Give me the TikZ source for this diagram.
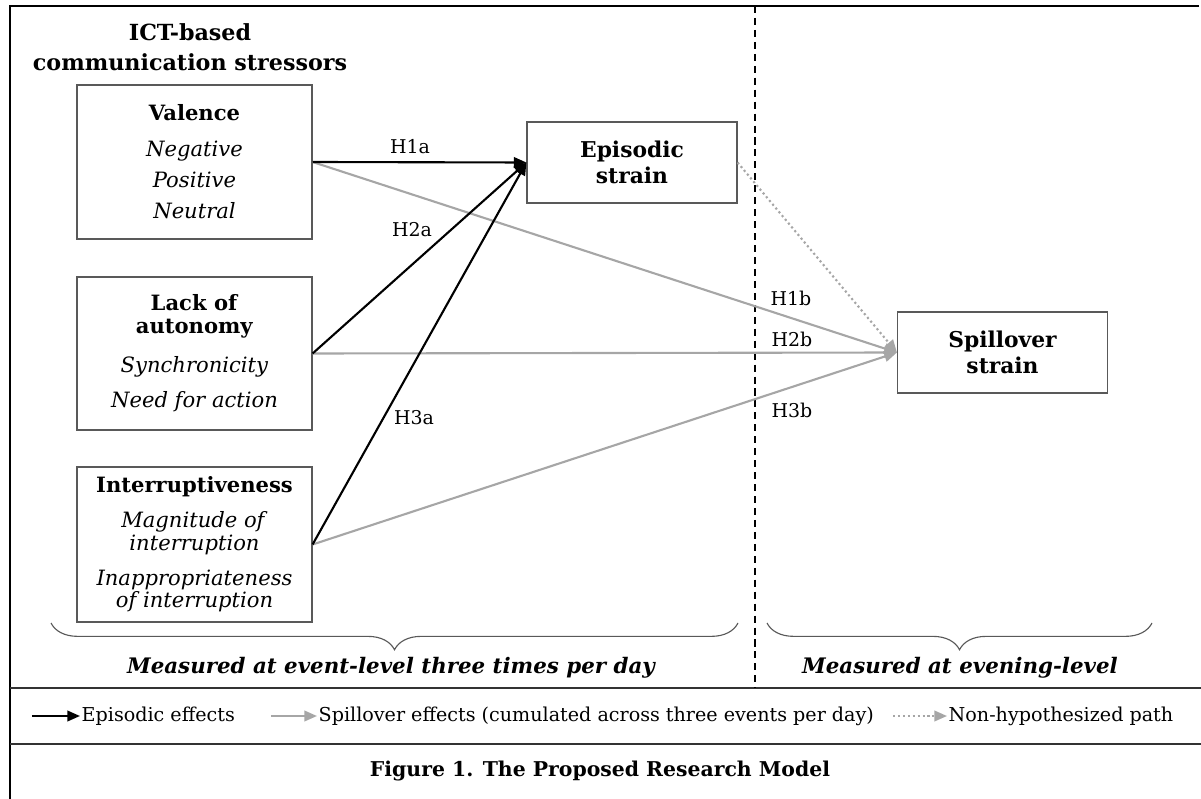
\documentclass[tikz,border=0pt]{standalone}
\usepackage{fontspec}
\setmainfont{DejaVu Serif}
\usetikzlibrary{arrows.meta, decorations.pathreplacing}
\definecolor{gray65}{gray}{0.65}
\definecolor{gray35}{gray}{0.35}
\definecolor{gray20}{gray}{0.2}

\begin{document}
\begin{tikzpicture}[x=0.025cm, y=-0.025cm,
    construct/.style={draw=gray35, line width=0.8pt, minimum width=5.875cm,
      align=center, inner sep=0pt, font=\fontsize{15}{16}\selectfont},
    outcome/.style={draw=gray35, line width=0.8pt, minimum width=5.25cm,
      minimum height=2.025cm, align=center, font=\fontsize{15.5}{18}\selectfont\bfseries},
    hyp/.style={font=\fontsize{13.5}{16}\selectfont, inner sep=1pt},
    keytext/.style={font=\fontsize{13.6}{16}\selectfont, inner sep=1pt, anchor=west},
    episodic path/.style={line width=1.5pt, -{Triangle[length=9pt, width=7.5pt]}},
    spillover path/.style={gray65, line width=1.5pt, -{Triangle[length=9pt, width=7.5pt]}},
    open path/.style={gray65, line width=1.5pt, dash pattern=on 1.5pt off 2pt,
      -{Triangle[length=9pt, width=7.5pt]}},
    measured/.style={gray35, line width=0.8pt, decorate,
      decoration={brace, amplitude=19pt}},
    level/.style={font=\fontsize{15.2}{18}\selectfont\bfseries\itshape}]

  \useasboundingbox (0, 0) rectangle (1201, 799);

  % frame and dividers
  \draw[line width=1.5pt] (1199, 6) -- (10, 6) -- (10, 799);
  \draw[gray20, line width=1.5pt] (10, 688) -- (1201, 688);
  \draw[gray20, line width=1.5pt] (10, 744) -- (1201, 744);
  \draw[line width=1.2pt, dash pattern=on 5pt off 3.5pt] (755, 6) -- (755, 688);

  \node[font=\fontsize{15.8}{18}\selectfont\bfseries, align=center] (stressors) at (190, 47)
    {ICT-based\\[3pt]communication stressors};

  \node[construct, minimum height=3.85cm] (valence) at (194.5, 162)
    {\textbf{Valence}\\[9.5pt] \textit{Negative}\\[5.5pt] \textit{Positive}\\[6.5pt] \textit{Neutral}};
  \node[construct, minimum height=3.825cm] (autonomy) at (194.5, 353.5)
    {\textbf{Lack of}\\ \textbf{autonomy}\\[12pt] \textit{Synchronicity}\\[9pt] \textit{Need for action}};
  \node[construct, minimum height=3.875cm] (interrupt) at (194.5, 544.5)
    {\textbf{Interruptiveness}\\[9pt] \textit{Magnitude of}\\ \textit{interruption}\\[9pt]
     \textit{Inappropriateness}\\ \textit{of interruption}};

  \node[outcome] (episodic) at (632, 162.5) {Episodic\\strain};
  \node[outcome] (spillover) at (1002.5, 352.5) {Spillover\\strain};

  \foreach \src in {valence, autonomy, interrupt} {
    \draw[spillover path] (\src.east) -- (spillover.west);
  }
  \foreach \src in {valence, autonomy, interrupt} {
    \draw[episodic path] (\src.east) -- (episodic.west);
  }
  \draw[open path] (episodic.east) -- (spillover.west);

  \node[hyp] (h1a) at (410, 147) {H1a};
  \node[hyp] (h2a) at (412, 230) {H2a};
  \node[hyp] (h3a) at (414, 418) {H3a};
  \node[hyp] (h1b) at (791, 298) {H1b};
  \node[hyp] (h2b) at (792, 339) {H2b};
  \node[hyp] (h3b) at (792, 410) {H3b};

  % measurement levels
  \draw[measured] (738, 623) -- (51, 623);
  \draw[measured] (1152, 623) -- (767, 623);
  \node[level] (eventlevel) at (391, 668) {Measured at event-level three times per day};
  \node[level] (eveninglevel) at (960, 668) {Measured at evening-level};

  % legend
  \node[keytext] (keyepisodic) at (80, 716) {Episodic effects};
  \node[keytext] (keyspillover) at (317, 716)
    {Spillover effects (cumulated across three events per day)};
  \node[keytext] (keyopen) at (947, 716) {Non-hypothesized path};
  \draw[episodic path] ([xshift=-1.2cm]keyepisodic.west) -- (keyepisodic.west);
  \draw[spillover path] ([xshift=-1.15cm]keyspillover.west) -- (keyspillover.west);
  \draw[open path] ([xshift=-1.35cm]keyopen.west) -- (keyopen.west);

  \node[font=\fontsize{14.5}{16}\selectfont\bfseries] (caption) at (600, 771)
    {Figure 1. The Proposed Research Model};

\end{tikzpicture}
\end{document}
